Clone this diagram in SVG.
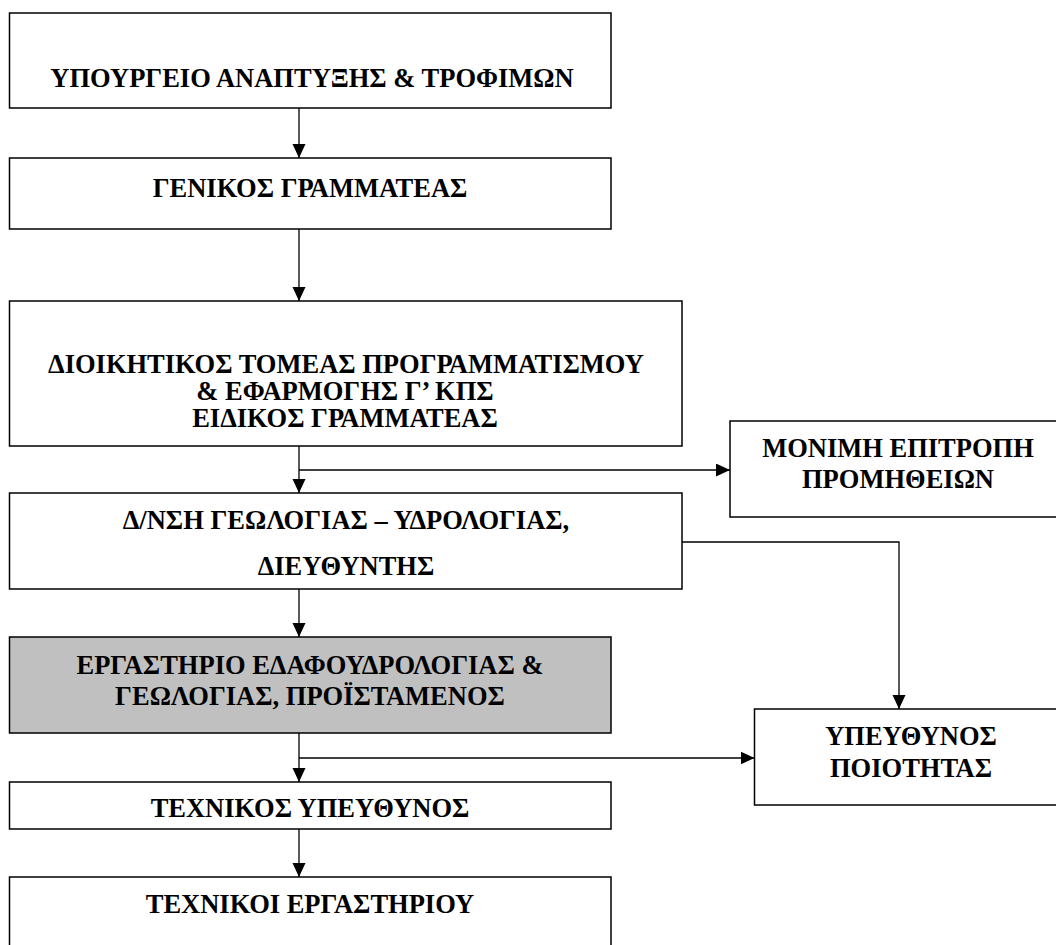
<svg xmlns="http://www.w3.org/2000/svg" width="1056" height="945" viewBox="0 0 1056 945">
<style>
.box{fill:#fff;stroke:#000;stroke-width:1.5}
.gray{fill:#c0c0c0}
.t{font-family:"Liberation Serif","Times New Roman",serif;font-weight:bold;font-size:26.5px;fill:#000;text-anchor:middle}
.c{fill:none;stroke:#000;stroke-width:1.3}
</style>
<defs>
<marker id="ah" markerUnits="userSpaceOnUse" markerWidth="15" markerHeight="14" refX="14" refY="6.5" orient="auto">
<path d="M0,0 L14,6.5 L0,13 Z" fill="#000"/>
</marker>
</defs>
<rect width="1056" height="945" fill="#fff"/>
<g id="n1"><rect class="box" x="9.5" y="13" width="601.5" height="95"/><text class="t" x="312" y="87">ΥΠΟΥΡΓΕΙΟ ΑΝΑΠΤΥΞΗΣ &amp; ΤΡΟΦΙΜΩΝ</text></g>
<g id="n2"><rect class="box" x="9.5" y="158" width="601.5" height="71"/><text class="t" x="310" y="197">ΓΕΝΙΚΟΣ ΓΡΑΜΜΑΤΕΑΣ</text></g>
<g id="n3"><rect class="box" x="9.5" y="301" width="672.5" height="145"/>
<text class="t" x="346" y="373">ΔΙΟΙΚΗΤΙΚΟΣ ΤΟΜΕΑΣ ΠΡΟΓΡΑΜΜΑΤΙΣΜΟΥ</text>
<text class="t" x="345" y="400">&amp; ΕΦΑΡΜΟΓΗΣ Γ’ ΚΠΣ</text>
<text class="t" x="345" y="427">ΕΙΔΙΚΟΣ ΓΡΑΜΜΑΤΕΑΣ</text></g>
<g id="n4"><rect class="box" x="9.5" y="493" width="672.5" height="96"/>
<text class="t" x="346" y="529">Δ/ΝΣΗ ΓΕΩΛΟΓΙΑΣ – ΥΔΡΟΛΟΓΙΑΣ,</text>
<text class="t" x="346" y="575">ΔΙΕΥΘΥΝΤΗΣ</text></g>
<g id="n5"><rect class="box gray" x="9.5" y="637" width="601.5" height="96"/>
<text class="t" x="310" y="674">ΕΡΓΑΣΤΗΡΙΟ ΕΔΑΦΟΥΔΡΟΛΟΓΙΑΣ &amp;</text>
<text class="t" x="310" y="705">ΓΕΩΛΟΓΙΑΣ, ΠΡΟΪΣΤΑΜΕΝΟΣ</text></g>
<g id="n6"><rect class="box" x="9.5" y="782" width="601.5" height="47"/><text class="t" x="310" y="817">ΤΕΧΝΙΚΟΣ ΥΠΕΥΘΥΝΟΣ</text></g>
<g id="n7"><rect class="box" x="9.5" y="877" width="601.5" height="90"/><text class="t" x="310" y="913">ΤΕΧΝΙΚΟΙ ΕΡΓΑΣΤΗΡΙΟΥ</text></g>
<g id="n8"><rect class="box" x="730" y="421" width="336" height="96"/>
<text class="t" x="898" y="457">ΜΟΝΙΜΗ ΕΠΙΤΡΟΠΗ</text>
<text class="t" x="898" y="488">ΠΡΟΜΗΘΕΙΩΝ</text></g>
<g id="n9"><rect class="box" x="754.5" y="709" width="314" height="96"/>
<text class="t" x="911" y="745">ΥΠΕΥΘΥΝΟΣ</text>
<text class="t" x="911" y="777">ΠΟΙΟΤΗΤΑΣ</text></g>
<g id="connectors">
<line class="c" x1="299" y1="108" x2="299" y2="158" marker-end="url(#ah)"/>
<line class="c" x1="299" y1="229" x2="299" y2="301" marker-end="url(#ah)"/>
<line class="c" x1="299" y1="446" x2="299" y2="493" marker-end="url(#ah)"/>
<line class="c" x1="299" y1="470" x2="730" y2="470" marker-end="url(#ah)"/>
<line class="c" x1="299" y1="589" x2="299" y2="637" marker-end="url(#ah)"/>
<polyline class="c" points="682,542 899,542 899,709" marker-end="url(#ah)"/>
<line class="c" x1="299" y1="733" x2="299" y2="782" marker-end="url(#ah)"/>
<line class="c" x1="299" y1="758" x2="754.5" y2="758" marker-end="url(#ah)"/>
<line class="c" x1="299" y1="829" x2="299" y2="877" marker-end="url(#ah)"/>
</g>
</svg>
